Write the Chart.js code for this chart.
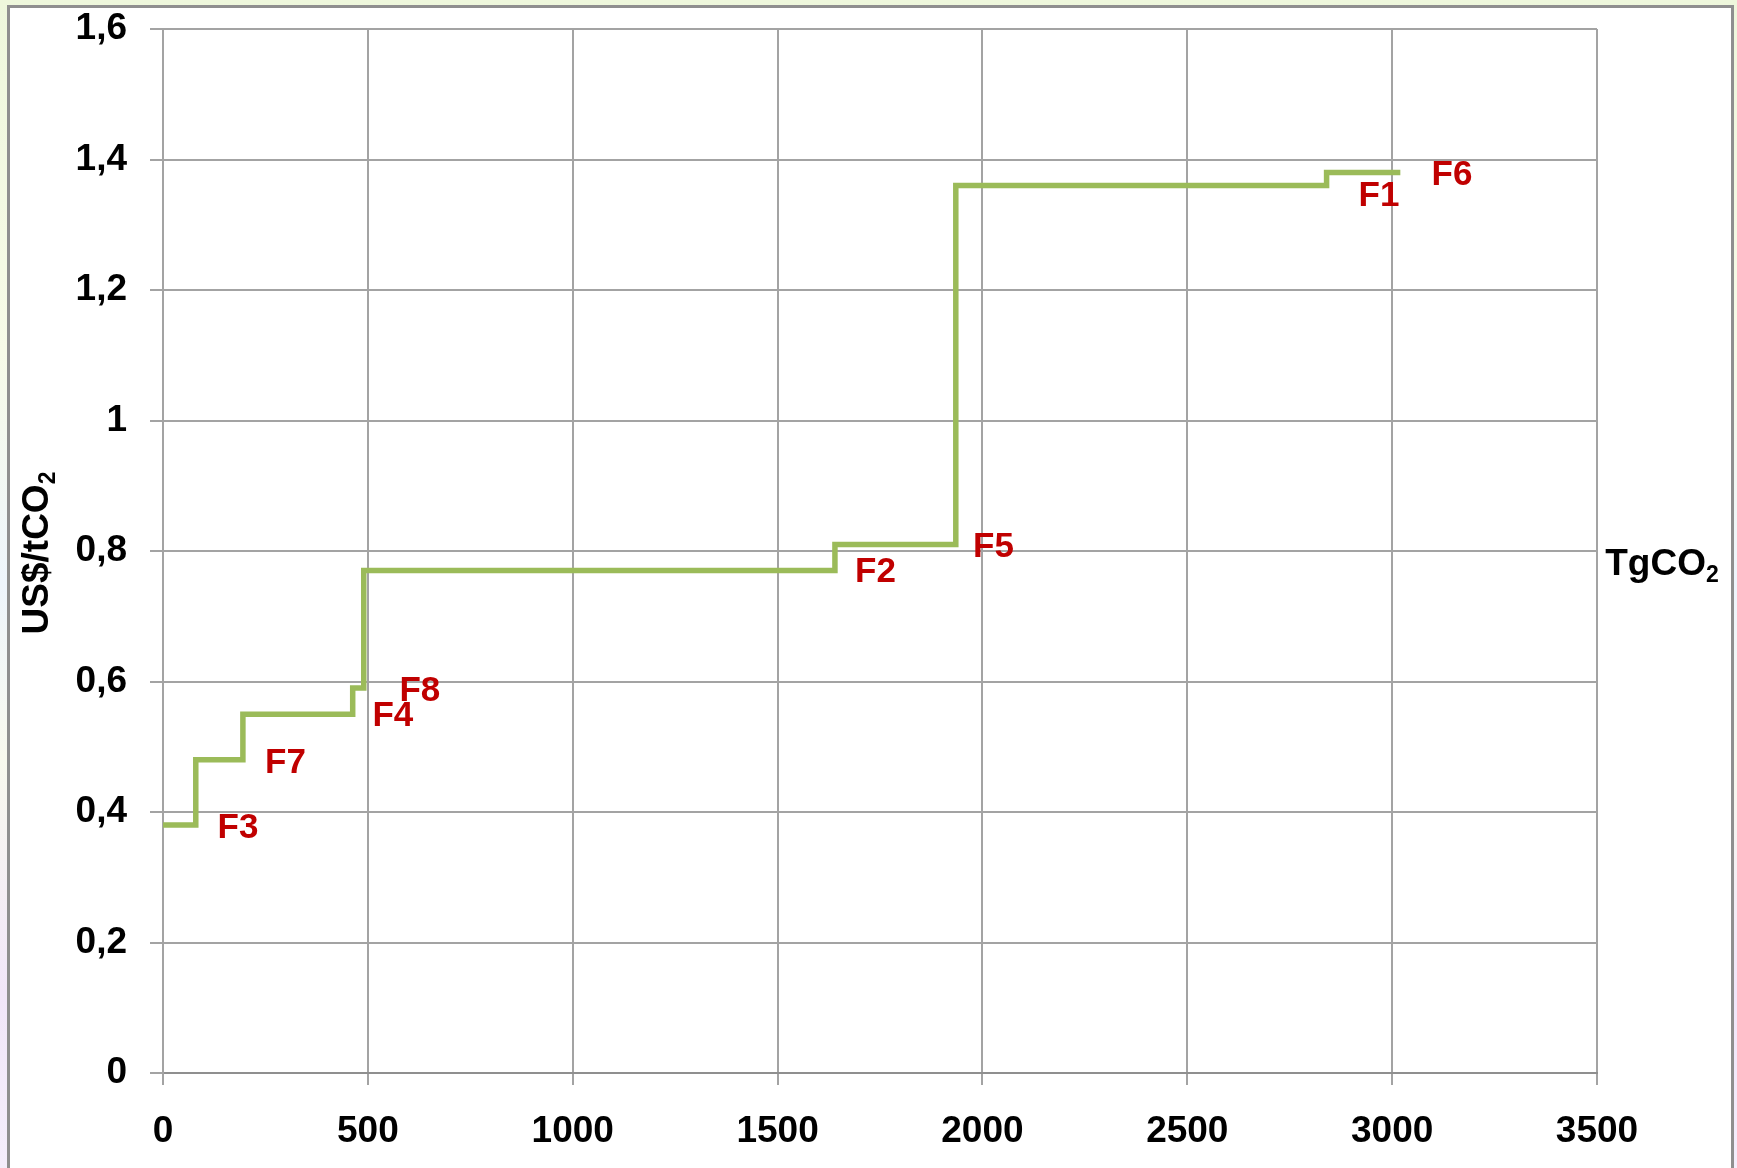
<!DOCTYPE html>
<html>
<head>
<meta charset="utf-8">
<script src="https://cdn.jsdelivr.net/npm/chart.js@4.4.1/dist/chart.umd.min.js"></script>
<style>
  html, body { margin: 0; padding: 0; }
  body {
    width: 1737px; height: 1168px; overflow: hidden; position: relative;
    background: linear-gradient(to bottom, #eef7dc 0%, #f7fbe8 30%, #eef5fc 50%, #f8f9ee 65%, #f1e6f9 85%, #f4eefb 100%);
  }
  #frame {
    position: absolute; left: 7px; top: 5px; width: 1721px; height: 1200px;
    background: #fff; border: 3px solid #8f8f8f;
  }
  #chart { position: absolute; left: 0; top: 0; }
</style>
</head>
<body>
<div id="frame"></div>
<canvas id="chart" width="1737" height="1168"></canvas>
<script>
// step curve: each point starts a horizontal segment
const stepX = [0, 80, 195, 463, 490, 1640, 1935, 2840, 3020];
const stepY = [0.38, 0.48, 0.55, 0.59, 0.77, 0.81, 1.36, 1.38, 1.38];

// label anchors in data units
const labelText = ["F3", "F7", "F4", "F8", "F2", "F5", "F1", "F6"];
const labelX = [183, 299, 561, 627, 1739, 2027, 2968, 3146];
const labelY = [0.375, 0.475, 0.547, 0.585, 0.768, 0.806, 1.344, 1.376];

const xTickLabels = ["0", "500", "1000", "1500", "2000", "2500", "3000", "3500"];
const yTickLabels = ["0", "0,2", "0,4", "0,6", "0,8", "1", "1,2", "1,4", "1,6"];

const fontFamily = "'Liberation Sans', Arial, sans-serif";
const gridColor = "#a3a3a3";

// draw the F labels and the two axis titles
const annotations = {
  id: "annotations",
  afterDatasetsDraw(chart) {
    const ctx = chart.ctx;
    const xs = chart.scales.x, ys = chart.scales.y;
    ctx.save();
    ctx.font = "bold 35px " + fontFamily;
    ctx.fillStyle = "#c00000";
    ctx.textAlign = "center";
    ctx.textBaseline = "middle";
    labelText.forEach((t, i) => {
      ctx.fillText(t, xs.getPixelForValue(labelX[i]), ys.getPixelForValue(labelY[i]));
    });

    ctx.fillStyle = "#000";
    // y title, rotated
    ctx.save();
    ctx.translate(38, 553);
    ctx.rotate(-Math.PI / 2);
    drawSub(ctx, "US$/tCO", "2", 0, 0, 37);
    ctx.restore();
    // x title at the right
    drawSub(ctx, "TgCO", "2", 1662, 565, 37);
    ctx.restore();
  }
};

function drawSub(ctx, main, sub, cx, cy, size) {
  ctx.font = "bold " + size + "px " + fontFamily;
  const w1 = ctx.measureText(main).width;
  ctx.font = "bold " + Math.round(size * 0.62) + "px " + fontFamily;
  const w2 = ctx.measureText(sub).width;
  const left = cx - (w1 + w2) / 2;
  ctx.textAlign = "left";
  ctx.textBaseline = "middle";
  ctx.font = "bold " + size + "px " + fontFamily;
  ctx.fillText(main, left, cy);
  ctx.font = "bold " + Math.round(size * 0.62) + "px " + fontFamily;
  ctx.fillText(sub, left + w1, cy + size * 0.3);
}

new Chart(document.getElementById("chart"), {
  type: "line",
  data: {
    datasets: [{
      data: stepX.map((x, i) => ({ x: x, y: stepY[i] })),
      stepped: "before",
      borderColor: "#9bbb59",
      borderWidth: 5.5,
      pointRadius: 0,
      fill: false
    }]
  },
  options: {
    responsive: false,
    animation: false,
    layout: { padding: { top: 29, right: 140, left: 0, bottom: 0 } },
    plugins: { legend: { display: false }, tooltip: { enabled: false } },
    scales: {
      x: {
        type: "linear",
        min: 0, max: 3500,
        afterFit(scale) {
          scale.height = 95;
          scale.paddingLeft = 0;
          scale.paddingRight = 0;
        },
        grid: { color: gridColor, lineWidth: 2, tickLength: 12 },
        border: { color: "#8f8f8f", width: 2 },
        ticks: {
          stepSize: 500,
          maxRotation: 0,
          padding: 25,
          color: "#000",
          font: { family: fontFamily, size: 37, weight: "bold" },
          callback: (v) => xTickLabels[Math.round(v / 500)]
        }
      },
      y: {
        min: 0, max: 1.6,
        afterFit(scale) {
          scale.width = 163;
          scale.paddingTop = 0;
          scale.paddingBottom = 0;
        },
        grid: { color: gridColor, lineWidth: 2, tickLength: 13 },
        border: { color: gridColor, width: 2 },
        ticks: {
          stepSize: 0.2,
          padding: 23,
          color: "#000",
          font: { family: fontFamily, size: 37, weight: "bold" },
          callback: (v) => yTickLabels[Math.round(v / 0.2)]
        }
      }
    }
  },
  plugins: [annotations]
});
</script>
</body>
</html>
